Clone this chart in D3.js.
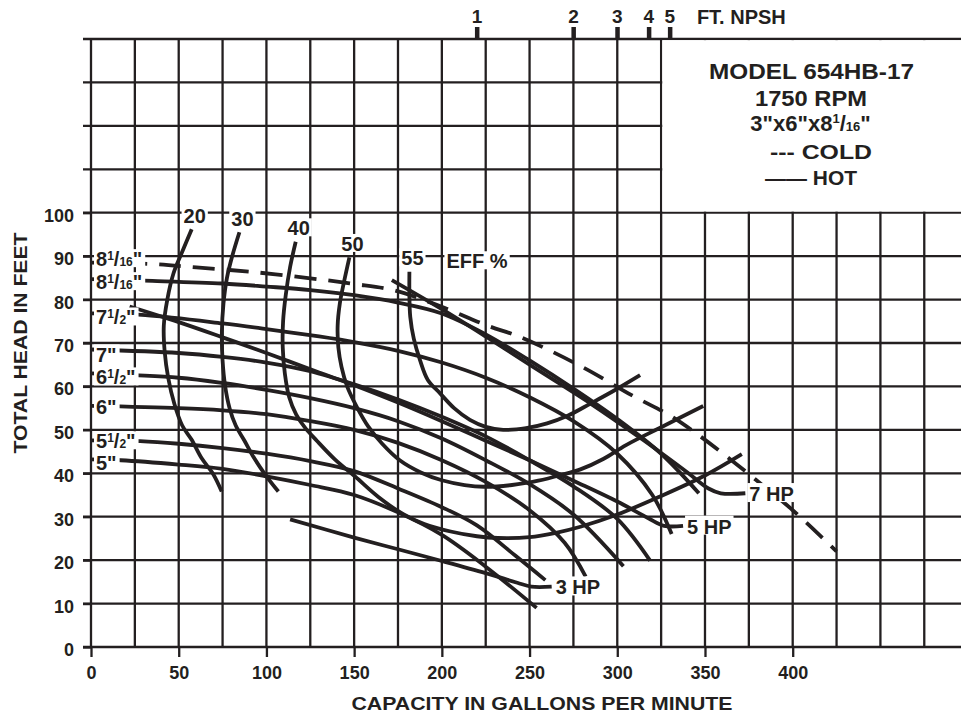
<!DOCTYPE html>
<html>
<head>
<meta charset="utf-8">
<script src="https://cdn.jsdelivr.net/npm/d3@7"></script>
<style>
  body { margin: 0; background: #fff; }
  svg { display: block; font-family: "Liberation Sans", Arial, Helvetica, sans-serif; font-weight: bold; }
</style>
</head>
<body>
<svg id="chart" width="961" height="715"></svg>
<script>
// ---- values (flow in GPM, head in feet) ----
const xTicks = [0, 50, 100, 150, 200, 250, 300, 350, 400];
const yTicks = [0, 10, 20, 30, 40, 50, 60, 70, 80, 90, 100];
const gridFlow = [0, 25, 50, 75, 100, 125, 150, 175, 200, 225, 250, 275, 300, 325, 350, 375, 400, 425, 450, 475];
const gridHead = [0, 10, 20, 30, 40, 50, 60, 70, 80, 90, 100, 110, 120, 130, 140];

// NPSH scale along the top
const npshFlow = [220, 275, 300, 318, 330];
const npshFeet = ["1", "2", "3", "4", "5"];

// impeller head curves
const headCold81 = [[0, 88.5], [34, 88.2], [60, 87.4], [91, 86.4], [125, 84.9], [150, 83.6], [172, 82.2], [197, 78.8], [226, 74], [245, 71.3], [280, 64.5], [309, 57.8], [330, 53.3], [347, 48.6], [362, 44], [379, 38.5], [400, 31.5], [425, 22]];
const headHot81 = [[0, 84.7], [35, 84.3], [75, 83.7], [100, 83], [125, 82.2], [150, 81], [175, 79.3], [200, 76.8], [225, 72], [250, 66], [275, 59.5], [300, 52.5], [325, 44.5], [346.5, 35.4]];
const head75 = [[0, 76.8], [31, 76.4], [75, 74.5], [100, 73.2], [130, 71.5], [150, 70.2], [175, 68.2], [200, 65.5], [225, 62], [250, 57.5], [275, 52], [300, 44.5], [320, 35], [331, 26]];
const head7 = [[0, 68.5], [50, 67.7], [75, 66.8], [100, 65.5], [125, 63.5], [150, 60.5], [175, 57], [200, 53], [225, 48.5], [250, 43], [275, 37], [300, 29.5], [318.7, 19.9]];
const head65 = [[0, 63], [50, 62], [75, 60.8], [100, 59.2], [125, 57.3], [150, 55], [175, 52], [200, 48], [225, 43], [250, 37.5], [275, 30.5], [303.5, 18.6]];
const head6 = [[0, 55.5], [50, 55], [75, 54.5], [100, 53.6], [125, 52], [150, 50], [175, 47], [200, 43], [225, 38], [250, 31.5], [270, 24], [282, 16.2]];
const head55 = [[0, 47.6], [28, 47.4], [50, 46.8], [75, 45.8], [100, 44.5], [125, 42.8], [150, 40.5], [175, 36.5], [200, 32.2], [220, 28], [242, 21], [259, 15.4]];
const head5 = [[0, 43.2], [17, 43], [50, 42], [75, 41], [100, 39.3], [125, 37.3], [150, 35], [175, 31], [200, 25.8], [225, 18.5], [254, 9]];
const diaLabels = ['8 1/16"', '8 1/16"', '7 1/2"', '7"', '6 1/2"', '6"', '5 1/2"', '5"'];

// efficiency curves
const eff20 = [[57.4, 96.2], [52, 91], [47, 86], [43.5, 80], [41.5, 74], [42, 68], [44, 62], [47.5, 56], [52, 51], [57.4, 47.7], [63, 43.5], [69.7, 39.8], [74.5, 35.8]];
const eff30 = [[84.6, 95.5], [80.5, 90], [77.5, 85], [75.5, 79], [74.6, 72.5], [75, 66], [76.5, 60], [79, 55], [82.5, 51], [87.5, 47.5], [93, 43.5], [99.5, 39.6], [106.8, 35.8]];
const eff40 = [[116.7, 93.3], [113.5, 87.5], [111, 81], [109.5, 75], [109.3, 69], [110.5, 63], [113, 57.5], [117, 53.5], [122, 50.5], [128.7, 47.5], [139, 43.2], [150.7, 39.2], [164, 34.5], [178, 30.6], [190, 28.3], [205, 26.6], [220, 25.5], [232, 25.1], [250, 25.3], [265, 26.3], [279, 27.7], [300, 30.5], [324, 34.6], [350, 39.5], [371, 44.4]];
const eff50 = [[147.3, 89.7], [144.2, 84], [141.8, 79], [140.6, 74], [141, 69], [142.8, 64.5], [146, 60], [151.5, 55.3], [158, 50.8], [166, 46.8], [176, 43], [188, 40.2], [200, 38.4], [213, 37.3], [224, 36.9], [240, 37.3], [255, 38.3], [268, 39.6], [279, 40.9], [292, 43.3], [305, 46.5], [327, 51], [349, 55.5]];
const eff55 = [[181.5, 86.4], [181.5, 81], [182, 76], [184, 71], [187.6, 66], [192, 61.5], [199, 58.4], [207, 55], [216, 52.3], [225, 50.7], [235, 50], [248, 50.4], [260, 51.5], [272, 53.3], [284.5, 56], [298, 59], [313, 62.6]];
const effLabels = ["20", "30", "40", "50", "55"];

// horsepower lines (last two points are the label leader)
const hp3 = [[113.5, 29.4], [150, 25.2], [175, 22.5], [200, 19.8], [225, 17], [243, 14.8], [251, 13.9], [262.6, 13.9]];
const hp5 = [[22, 78.4], [50, 74.8], [75, 71.3], [100, 67.7], [130, 63.2], [150, 60.3], [175, 56.3], [200, 52], [225, 47.5], [250, 43], [275, 38.3], [300, 33.5], [318, 29.6], [326.7, 27.9], [337.5, 27.9]];
const hp7 = [[171.5, 84.5], [200, 77.8], [225, 71.5], [250, 65], [285, 56], [315, 47.6], [340, 40.2], [352, 36.5], [359, 35.4], [373, 35.4]];
const hpLabels = ["3 HP", "5 HP", "7 HP"];

const legendLines = ["MODEL 654HB-17", "1750 RPM", '3"x6"x8 1/16"', "--- COLD", "\u2014\u2014 HOT"];

// ---- drawing ----
const ink = "#231f20";
const svg = d3.select("#chart");
const W = 961;

const x = d3.scaleLinear().domain([0, 400]).range([91, 792.7]);
const y = d3.scaleLinear().domain([0, 140]).range([647, 39]);

svg.append("rect").attr("width", W).attr("height", 715).attr("fill", "#fff");

// grid
svg.append("g").selectAll("line").data(gridFlow).join("line")
  .attr("x1", d => x(d)).attr("x2", d => x(d))
  .attr("y1", y(140)).attr("y2", y(0))
  .attr("stroke", ink).attr("stroke-width", 2.3);
svg.append("g").selectAll("line").data(gridHead).join("line")
  .attr("x1", x(0) - 8).attr("x2", W)
  .attr("y1", d => y(d)).attr("y2", d => y(d))
  .attr("stroke", ink).attr("stroke-width", 2.3);

// axes
const xAxis = svg.append("g")
  .attr("transform", `translate(0,${y(0)})`)
  .call(d3.axisBottom(x).tickValues(xTicks).tickSize(10).tickPadding(9));
const yAxis = svg.append("g")
  .attr("transform", `translate(${x(0)},0)`)
  .call(d3.axisLeft(y).tickValues(yTicks).tickSize(8).tickPadding(9));
[xAxis, yAxis].forEach(g => {
  g.select(".domain").remove();
  g.attr("font-family", null).attr("font-size", null);
  g.selectAll("line").attr("stroke", ink).attr("stroke-width", 2.3);
  g.selectAll("text").attr("fill", ink).style("font-size", "18px");
});
yAxis.selectAll("text").attr("dy", "0.47em");

svg.append("text")
  .attr("x", 542).attr("y", 710)
  .attr("text-anchor", "middle").attr("fill", ink)
  .attr("textLength", 381).attr("lengthAdjust", "spacingAndGlyphs")
  .style("font-size", "18px")
  .text("CAPACITY IN GALLONS PER MINUTE");
svg.append("text")
  .attr("transform", "translate(26.5,343) rotate(-90)")
  .attr("text-anchor", "middle").attr("fill", ink)
  .attr("textLength", 221).attr("lengthAdjust", "spacingAndGlyphs")
  .style("font-size", "18px")
  .text("TOTAL HEAD IN FEET");

// NPSH scale
const npsh = svg.append("g");
npsh.selectAll("rect").data(npshFlow).join("rect")
  .attr("x", d => x(d) - 2).attr("y", 27).attr("width", 4.5).attr("height", y(140) - 27)
  .attr("fill", ink);
npsh.selectAll("text").data(npshFeet).join("text")
  .attr("x", (d, i) => x(npshFlow[i])).attr("y", 23)
  .attr("text-anchor", "middle").attr("fill", ink).style("font-size", "19px")
  .text(d => d);
npsh.append("text")
  .attr("x", x(npshFlow[npshFlow.length - 1]) + 27).attr("y", 23.5)
  .attr("fill", ink).style("font-size", "20px")
  .text("FT. NPSH");

// curves
const line = d3.line()
  .x(d => x(d[0])).y(d => y(d[1]))
  .curve(d3.curveCatmullRom.alpha(0.5));
const curves = svg.append("g")
  .attr("fill", "none").attr("stroke", ink)
  .attr("stroke-width", 3.8).attr("stroke-linejoin", "round");

const heads = [headCold81, headHot81, head75, head7, head65, head6, head55, head5];
heads.forEach((d, i) => {
  curves.append("path").datum(d).attr("d", line)
    .attr("stroke-dasharray", i === 0 ? "22,12" : null);
});
const effs = [eff20, eff30, eff40, eff50, eff55];
effs.forEach(d => curves.append("path").datum(d).attr("d", line));
const hps = [hp3, hp5, hp7];
hps.forEach(d => curves.append("path").datum(d).attr("d", line));

// label helper: white box behind text
const labels = svg.append("g").attr("fill", ink);
function boxed(t, pad) {
  const b = t.node().getBBox();
  labels.insert("rect", () => t.node())
    .attr("x", b.x - pad[3]).attr("y", b.y - pad[0])
    .attr("width", b.width + pad[1] + pad[3]).attr("height", b.height + pad[0] + pad[2])
    .attr("fill", "#fff");
}
// writes 8 1/16" as 8, small raised 1, slash, small 16, inch mark
function fraction(t, s, big, small) {
  const m = s.match(/^(.*?)(\d+) (\d+)\/(\d+)(")?$/);
  if (!m) { t.text(s); return; }
  const lift = big * 0.32;
  if (m[1]) t.append("tspan").text(m[1]);
  t.append("tspan").text(m[2]);
  t.append("tspan").style("font-size", small + "px").attr("dy", -lift).text(m[3]);
  t.append("tspan").attr("dy", lift).text("/");
  t.append("tspan").style("font-size", small + "px").text(m[4]);
  if (m[5]) t.append("tspan").text(m[5]);
}

// impeller diameter labels at the left
const diaDy = [3.5, 10, 11, 12, 11, 8, 8, 10.5];
diaLabels.forEach((s, i) => {
  const t = labels.append("text")
    .attr("x", 96).attr("y", y(heads[i][0][1]) + diaDy[i])
    .style("font-size", "20px");
  fraction(t, s, 20, 12);
  boxed(t, [-1, 3, -3, 2]);
});

// efficiency labels
effs.forEach((d, i) => {
  const t = labels.append("text")
    .attr("x", x(d[0][0]) + 3).attr("y", y(d[0][1]) - 6.5)
    .attr("text-anchor", "middle").style("font-size", "20px")
    .text(effLabels[i]);
  boxed(t, [-1, 2, -3, 2]);
});
const effTag = labels.append("text")
  .attr("x", x(eff55[0][0]) + 37).attr("y", y(eff55[0][1]) - 3.5)
  .style("font-size", "20px").text("EFF %");
boxed(effTag, [-1, 2, -3, 2]);

// horsepower labels
hps.forEach((d, i) => {
  const end = d[d.length - 1];
  const t = labels.append("text")
    .attr("x", x(end[0]) + 4).attr("y", y(end[1]) + 7.8)
    .style("font-size", "20px").text(hpLabels[i]);
  boxed(t, [0, 2, -3, 2]);
});

// legend box in the upper right
svg.append("rect")
  .attr("x", x(325) + 1.15).attr("y", y(140) + 1.15)
  .attr("width", W - x(325)).attr("height", y(100) - y(140) - 2.3)
  .attr("fill", "#fff");
const legendY = [79, 106, 130.5, 159, 185];
const legendX = [811.5, 811, 810.5, 821, 811];
const legendW = [205, 112, null, 102, 92];
legendLines.forEach((s, i) => {
  const t = svg.append("text")
    .attr("x", legendX[i]).attr("y", legendY[i])
    .attr("text-anchor", "middle").attr("fill", ink)
    .style("font-size", i < 3 ? "22px" : "21px");
  if (legendW[i]) {
    t.attr("textLength", legendW[i]).attr("lengthAdjust", "spacingAndGlyphs").text(s);
  } else {
    fraction(t, s, 22, 13);
  }
});
</script>
</body>
</html>
